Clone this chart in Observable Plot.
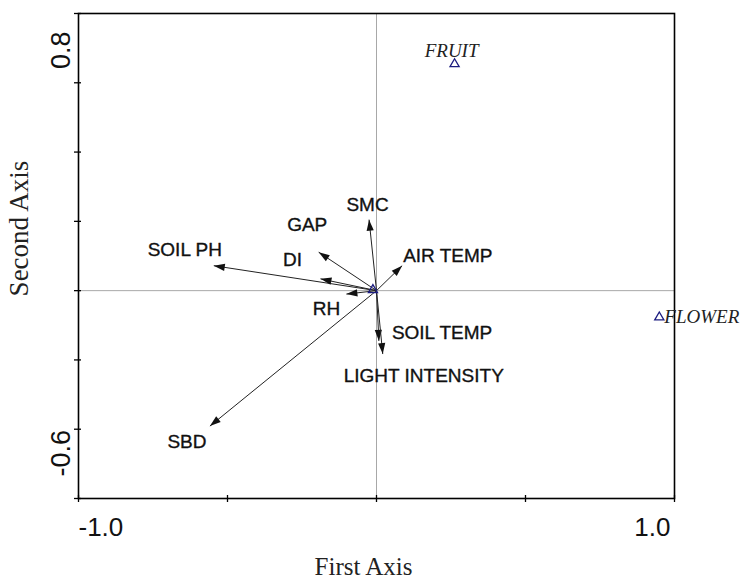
<!DOCTYPE html>
<html><head><meta charset="utf-8">
<script src="https://cdn.jsdelivr.net/npm/d3@7"></script>
<script src="https://cdn.jsdelivr.net/npm/@observablehq/plot@0.6"></script>
<style>html,body{margin:0;padding:0;background:#fff}#chart svg{display:block}</style>
</head><body><div id="chart"></div>
<script>
// ---- data ----
const variables = ["SMC", "GAP", "SOIL PH", "DI", "RH", "AIR TEMP", "SOIL TEMP", "LIGHT INTENSITY", "SBD"];
const axis1 = [-0.025, -0.194, -0.546, -0.188, -0.101, 0.086, 0.008, 0.021, -0.559];
const axis2 = [0.205, 0.111, 0.072, 0.034, -0.010, 0.072, -0.145, -0.183, -0.391];
const samples = ["FRUIT", "FLOWER", ""];
const sampleX = [0.262, 0.949, -0.012];
const sampleY = [0.654, -0.077, 0.002];
const xTicks = [-1, -0.5, 0, 0.5, 1];
const yTicks = [-0.6, -0.4, -0.2, 0, 0.2, 0.4, 0.6, 0.8];
const xTickLabelValues = [-1, 1];
const xTickLabels = ["-1.0", "1.0"];
const yTickLabelValues = [0.8, -0.6];
const yTickLabels = ["0.8", "-0.6"];
const xTitle = "First Axis";
const yTitle = "Second Axis";

// ---- tables ----
const vecs = variables.map((name, i) => ({name, x: axis1[i], y: axis2[i]}));
const pts = samples.map((name, i) => ({name, x: sampleX[i], y: sampleY[i]}));

// label placement (pixel offsets from arrow tips)
const labelPos = {
  "SMC": {dx: -1.5, dy: -15, anchor: "middle"},
  "GAP": {dx: -11.5, dy: -27, anchor: "middle"},
  "SOIL PH": {dx: -29, dy: -16, anchor: "middle"},
  "DI": {dx: -28, dy: -19, anchor: "middle"},
  "RH": {dx: -20, dy: 14.5, anchor: "middle"},
  "AIR TEMP": {dx: 1, dy: -10, anchor: "start"},
  "SOIL TEMP": {dx: 13, dy: -7.5, anchor: "start"},
  "LIGHT INTENSITY": {dx: 41, dy: 22, anchor: "middle"},
  "SBD": {dx: -23, dy: 16, anchor: "middle"}
};
const sampleLabelPos = {
  "FRUIT": {dx: -3, dy: -13, anchor: "middle"},
  "FLOWER": {dx: 5, dy: 0, anchor: "start"}
};

const sans = "'Liberation Sans', Arial, sans-serif";
const serif = "'Liberation Serif', 'Times New Roman', serif";
const W = 742, H = 578, mL = 78, mR = 68, mT = 13, mB = 80;
const fW = W - mL - mR, fH = H - mT - mB;
const ink = "#111";

const marks = [
  Plot.ruleX([0], {stroke: "#a8a8a8", strokeWidth: 1}),
  Plot.ruleY([0], {stroke: "#a8a8a8", strokeWidth: 1}),
  Plot.frame({stroke: "#000", strokeWidth: 1.6}),
  Plot.tickX(xTicks, {x: d => d, stroke: "#000", strokeWidth: 1.3, insetTop: fH - 3, insetBottom: -4}),
  Plot.tickY(yTicks, {y: d => d, stroke: "#000", strokeWidth: 1.3, insetLeft: -4, insetRight: fW - 3}),
  Plot.link(vecs, {x1: d => 0, y1: d => 0, x2: "x", y2: "y", stroke: "#222", strokeWidth: 1, markerEnd: "arrow"}),
  Plot.dot(pts, {x: "x", y: "y", symbol: "triangle", r: 3.4, stroke: "#1c1c80", strokeWidth: 1.3, fill: "none"}),
  ...vecs.map(v => Plot.text([v], {x: "x", y: "y", text: "name", dx: labelPos[v.name].dx, dy: labelPos[v.name].dy,
    textAnchor: labelPos[v.name].anchor, lineAnchor: "middle", fontSize: 19, fontFamily: sans,
    fill: ink, stroke: ink, strokeWidth: 0.35})),
  ...pts.filter(p => p.name).map(p => Plot.text([p], {x: "x", y: "y", text: "name", dx: sampleLabelPos[p.name].dx, dy: sampleLabelPos[p.name].dy,
    textAnchor: sampleLabelPos[p.name].anchor, lineAnchor: "middle", fontSize: 19, fontFamily: serif, fontStyle: "italic", fill: "#222"})),
  Plot.text([0], {x: () => xTickLabelValues[0], text: () => xTickLabels[0], frameAnchor: "bottom", dy: 29, textAnchor: "start", lineAnchor: "middle", fontSize: 26, fontFamily: sans, fill: ink}),
  Plot.text([1], {x: () => xTickLabelValues[1], text: () => xTickLabels[1], frameAnchor: "bottom", dy: 29, dx: -4, textAnchor: "end", lineAnchor: "middle", fontSize: 26, fontFamily: sans, fill: ink}),
  Plot.text([0], {y: () => yTickLabelValues[0], text: () => yTickLabels[0], frameAnchor: "left", dx: -17, dy: 18, rotate: -90, textAnchor: "end", lineAnchor: "middle", fontSize: 27, fontFamily: sans, fill: ink}),
  Plot.text([1], {y: () => yTickLabelValues[1], text: () => yTickLabels[1], frameAnchor: "left", dx: -17, dy: -22, rotate: -90, textAnchor: "start", lineAnchor: "middle", fontSize: 27, fontFamily: sans, fill: ink}),
  Plot.text([xTitle], {text: d => d, frameAnchor: "bottom", dx: -13, dy: 68, textAnchor: "middle", lineAnchor: "middle", fontSize: 25, fontFamily: serif, fill: "#222"}),
  Plot.text([yTitle], {text: d => d, frameAnchor: "left", dx: -59, dy: -27.5, rotate: -90, textAnchor: "middle", lineAnchor: "middle", fontSize: 27, fontFamily: serif, fill: "#222"})
];

const chart = Plot.plot({
  width: W, height: H,
  marginLeft: mL, marginRight: mR, marginTop: mT, marginBottom: mB,
  x: {domain: [-1, 1], axis: null},
  y: {domain: [-0.6, 0.8], axis: null},
  style: {background: "#fff", overflow: "visible"},
  marks
});

// filled arrow heads
chart.querySelectorAll("marker").forEach(m => {
  m.setAttribute("viewBox", "-12 -5 13 10");
  m.setAttribute("markerWidth", 13);
  m.setAttribute("markerHeight", 10);
  m.setAttribute("markerUnits", "userSpaceOnUse");
  m.setAttribute("fill", "#111");
  m.setAttribute("stroke", "none");
  const p = m.querySelector("path");
  if (p) p.setAttribute("d", "M-11,-3.6L0,0L-11,3.6Z");
});

document.getElementById("chart").appendChild(chart);
</script>
</body></html>
